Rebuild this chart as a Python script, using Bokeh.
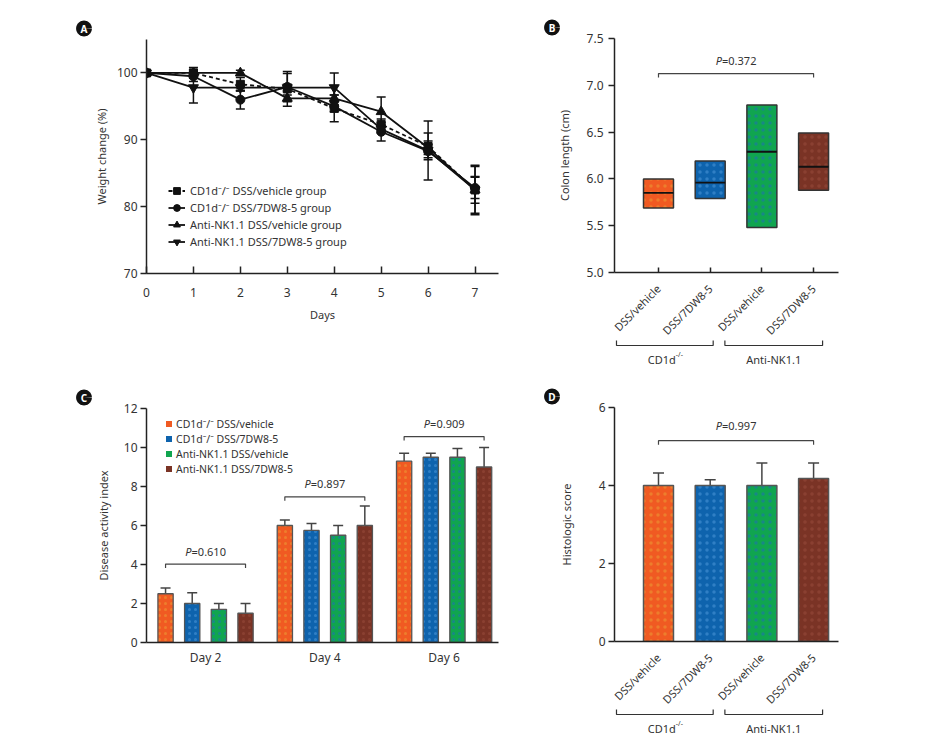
import numpy as np
from bokeh.plotting import figure
from bokeh.models import (Range1d, FixedTicker, Whisker, TeeHead, ColumnDataSource,
                          Legend, LegendItem, PrintfTickFormatter)
from bokeh.layouts import row, column
from bokeh.embed import file_html
from bokeh.resources import INLINE
from bokeh.core.properties import value

# ---------------- data ----------------
# Panel A: weight change (%)
days = [0, 1, 2, 3, 4, 5, 6, 7]
a_labels = ["CD1d\u207b/\u207b DSS/vehicle group", "CD1d\u207b/\u207b DSS/7DW8-5 group",
            "Anti-NK1.1 DSS/vehicle group", "Anti-NK1.1 DSS/7DW8-5 group"]
a_cd1d_vehicle = [100, 100, 98.3, 97.6, 94.7, 92.3, 89.0, 82.5]
a_cd1d_7dw = [100, 99.5, 96.0, 97.9, 95.0, 91.2, 88.3, 82.8]
a_nk_vehicle = [100, 100, 100, 96.2, 96.2, 94.2, 88.8, 82.5]
a_nk_7dw = [100, 97.8, 97.8, 97.8, 97.8, 91.6, 88.4, 82.5]
a_cd1d_vehicle_err = [0, 0.8, 1.0, 2.6, 2.0, 0.8, 2.0, 3.7]
a_cd1d_7dw_err = [0, 0.8, 1.4, 2.0, 0.8, 1.4, 1.0, 1.6]
a_nk_vehicle_err = [0, 0.5, 0.4, 0.5, 0.5, 2.2, 1.0, 2.0]
a_nk_7dw_err = [0, 2.3, 0.5, 0.5, 2.2, 0.6, 4.4, 3.5]
a_yticks = [70, 80, 90, 100]

# Shared categories for B and D
groups = ["CD1d", "Anti-NK1.1"]
group_sup = ["-/-", ""]
treatments = ["DSS/vehicle", "DSS/7DW8-5", "DSS/vehicle", "DSS/7DW8-5"]

# Panel B: colon length (cm) boxes
colon_low = [5.69, 5.79, 5.48, 5.88]
colon_high = [6.00, 6.19, 6.79, 6.49]
colon_median = [5.85, 5.96, 6.29, 6.13]
b_p = "0.372"
b_yticks = [5.0, 5.5, 6.0, 6.5, 7.0, 7.5]

# Panel C: disease activity index
c_days = ["Day 2", "Day 4", "Day 6"]
c_series = ["CD1d\u207b/\u207b DSS/vehicle", "CD1d\u207b/\u207b DSS/7DW8-5",
            "Anti-NK1.1 DSS/vehicle", "Anti-NK1.1 DSS/7DW8-5"]
dai_cd1d_vehicle = [2.5, 6.0, 9.3]
dai_cd1d_7dw = [2.0, 5.75, 9.5]
dai_nk_vehicle = [1.7, 5.5, 9.5]
dai_nk_7dw = [1.5, 6.0, 9.0]
dai_cd1d_vehicle_err = [0.3, 0.28, 0.4]
dai_cd1d_7dw_err = [0.55, 0.35, 0.2]
dai_nk_vehicle_err = [0.3, 0.5, 0.45]
dai_nk_7dw_err = [0.5, 1.0, 1.0]
c_p = ["0.610", "0.897", "0.909"]
c_yticks = [0, 2, 4, 6, 8, 10, 12]

# Panel D: histologic score
histo = [4.0, 4.0, 4.0, 4.18]
histo_err = [0.32, 0.15, 0.58, 0.40]
d_p = "0.997"
d_yticks = [0, 2, 4, 6]

# ---------------- style ----------------
FONT = "Noto Sans"
TXT = "#333333"
AX = "#222222"
COLORS = ["#F05A22", "#0E63AD", "#10A54F", "#7A3325"]
HATCH = ["#E8C040", "#6FB4F0", "#2850F0", "#A85A48"]


def make_fig(w, h, bl, br, bt, bb, xr, yr):
    p = figure(width=w, height=h, x_range=Range1d(*xr), y_range=Range1d(*yr),
               output_backend="svg", toolbar_location=None,
               min_border_left=bl, min_border_right=br, min_border_top=bt,
               min_border_bottom=bb)
    p.outline_line_color = None
    p.xgrid.visible = False
    p.ygrid.visible = False
    for ax in (p.xaxis[0], p.yaxis[0]):
        ax.axis_line_color = AX
        ax.axis_line_width = 1.5
        ax.major_tick_line_color = AX
        ax.major_tick_line_width = 1.5
        ax.minor_tick_line_color = None
        ax.major_label_text_font = FONT
        ax.major_label_text_font_size = "12px"
        ax.major_label_text_color = TXT
        ax.axis_label_text_font = FONT
        ax.axis_label_text_font_size = "11px"
        ax.axis_label_text_font_style = "normal"
        ax.axis_label_text_color = TXT
    p.yaxis.major_tick_in = 0
    p.yaxis.major_tick_out = 6
    p.yaxis.major_label_standoff = 3
    return p


class Frame:
    def __init__(self, xr, yr, fw, fh):
        self.x0, self.x1 = xr
        self.y0, self.y1 = yr
        self.xpp = fw / (xr[1] - xr[0])
        self.ypp = fh / (yr[1] - yr[0])
        self.fh = fh

    def dx(self, px):
        return px / self.xpp

    def dy(self, px):
        return px / self.ypp

    def X(self, px):  # px from frame left
        return self.x0 + px / self.xpp

    def Y(self, px):  # px from frame bottom (up positive)
        return self.y0 + px / self.ypp


def panel_letter(p, fr, letter):
    x = fr.X(-62.5)
    y = fr.Y(fr.fh + 11)
    t = np.linspace(0, 2 * np.pi, 41)
    r = 3.9
    # thick closed ring -> filled black disc (drawn outside the frame)
    p.multi_line(xs=[list(x + fr.dx(r * np.cos(t)))], ys=[list(y + fr.dy(r * np.sin(t)))],
                 line_color="#111111", line_width=8, line_join="round", level="overlay")
    p.text(x=[x], y=[y], text=[letter], text_font=value(FONT), text_font_size="10px",
           text_font_style="bold", text_color="white", text_align="center",
           text_baseline="middle", level="overlay")


def p_bracket(p, fr, xa, xb, y, ytext, pval):
    t = fr.dy(4)
    p.multi_line(xs=[[xa, xa, xb, xb]], ys=[[y - t, y, y, y - t]],
                 line_color="#444444", line_width=1.2)
    xc = (xa + xb) / 2
    p.text(x=[xc], y=[ytext], text=["P"], text_font=value(FONT), text_font_size="11px",
           text_font_style="italic", text_color=TXT, text_align="right",
           text_baseline="middle", x_offset=-14)
    p.text(x=[xc], y=[ytext], text=["=" + pval], text_font=value(FONT),
           text_font_size="11px", text_color=TXT, text_align="left",
           text_baseline="middle", x_offset=-14)


def group_brackets(p, fr, xs):
    # brackets below the rotated category labels
    offs = [(-42, 3), (-37, 9)]
    yl = fr.Y(-73)
    t = fr.dy(5)
    for gi, g in enumerate(groups):
        xa = xs[2 * gi] + fr.dx(offs[gi][0])
        xb = xs[2 * gi + 1] + fr.dx(offs[gi][1])
        p.multi_line(xs=[[xa, xa, xb, xb]], ys=[[yl + t, yl, yl, yl + t]],
                     line_color="#333333", line_width=1.2, level="overlay")
        xc = (xa + xb) / 2
        ylab = fr.Y(-87)
        sup = group_sup[gi]
        shift = -3 if sup else 0
        p.text(x=[xc], y=[ylab], text=[g], text_font=value(FONT), text_font_size="11px",
               text_color=TXT, text_align="center", text_baseline="middle",
               x_offset=shift, level="overlay")
        if sup:
            p.text(x=[xc], y=[ylab], text=[sup], text_font=value(FONT),
                   text_font_size="7px", text_color=TXT, text_align="left",
                   text_baseline="middle", x_offset=shift + 14, y_offset=-5,
                   level="overlay")


def cat_axis(p, xs, labels, tick_in):
    p.xaxis.ticker = FixedTicker(ticks=xs)
    p.xaxis.major_label_overrides = {x: lab for x, lab in zip(xs, labels)}
    p.xaxis.major_label_orientation = np.pi / 4
    p.xaxis.major_tick_in = tick_in
    p.xaxis.major_tick_out = 0
    p.xaxis.major_label_text_font_size = "11px"
    p.xaxis.major_label_standoff = 14


# ---------------- Panel A ----------------
A_xr, A_yr = (0, 7.5), (70, 105)
pA = make_fig(528, 378, 146, 30, 39, 105, A_xr, A_yr)
frA = Frame(A_xr, A_yr, 352, 234)
pA.xaxis.ticker = FixedTicker(ticks=days)
pA.yaxis.ticker = FixedTicker(ticks=a_yticks)
pA.xaxis.major_tick_in = 7
pA.xaxis.major_tick_out = 0
pA.xaxis.major_label_standoff = 14
pA.xaxis.axis_label = "Days"
pA.xaxis.axis_label_standoff = 7
pA.yaxis.axis_label = "Weight change (%)"
pA.yaxis.axis_label_standoff = 5

a_series = [a_cd1d_vehicle, a_cd1d_7dw, a_nk_vehicle, a_nk_7dw]
a_errs = [a_cd1d_vehicle_err, a_cd1d_7dw_err, a_nk_vehicle_err, a_nk_7dw_err]
markers = ["square", "circle", "triangle", "inverted_triangle"]
msizes = [8, 9, 10, 10]
dashes = ["4 3", "solid", "solid", "solid"]
a_items = []
for vals, errs, mk, ms, dsh, lab in zip(a_series, a_errs, markers, msizes, dashes, a_labels):
    xs_e = [d for d, e in zip(days, errs) if e > 0]
    lo = [v - e for v, e in zip(vals, errs) if e > 0]
    hi = [v + e for v, e in zip(vals, errs) if e > 0]
    src = ColumnDataSource(dict(x=xs_e, lower=lo, upper=hi))
    pA.add_layout(Whisker(source=src, base="x", lower="lower", upper="upper",
                          dimension="height", line_color="#111111", line_width=1.5,
                          upper_head=TeeHead(size=9, line_color="#111111", line_width=1.5),
                          lower_head=TeeHead(size=9, line_color="#111111", line_width=1.5)))
    lr = pA.line(days, vals, line_color="#111111", line_width=1.8, line_dash=dsh)
    sr = pA.scatter(days, vals, marker=mk, size=ms, fill_color="#111111",
                    line_color="#111111")
    a_items.append(LegendItem(label=lab, renderers=[lr, sr]))

legA = Legend(items=a_items, location=(22, 23), glyph_width=17, glyph_height=17,
              label_height=17, spacing=0, padding=0, margin=0, border_line_color=None,
              background_fill_alpha=0, label_text_font=FONT, label_text_font_size="11px",
              label_text_color=TXT, label_standoff=5)
pA.add_layout(legA)
panel_letter(pA, frA, "A")

# ---------------- Panel B ----------------
BD_xr = (-0.851, 3.482)
B_yr = (5.0, 7.5)
pB = make_fig(390, 378, 86, 80, 38, 106, BD_xr, B_yr)
frB = Frame(BD_xr, B_yr, 224, 234)
xs4 = list(range(len(treatments)))
cat_axis(pB, xs4, treatments, 5)
pB.yaxis.ticker = FixedTicker(ticks=b_yticks)
pB.yaxis.formatter = PrintfTickFormatter(format="%.1f")
pB.yaxis.major_label_standoff = 5
pB.yaxis.axis_label = "Colon length (cm)"
pB.yaxis.axis_label_standoff = 12
BOXW = 0.58
pB.vbar(x=xs4, width=BOXW, bottom=colon_low, top=colon_high, fill_color=COLORS,
        line_color="#333333", line_width=1.5, hatch_pattern="dot", hatch_color=HATCH,
        hatch_scale=7, hatch_weight=1, hatch_alpha=0.35)
pB.segment(x0=[x - BOXW / 2 for x in xs4], x1=[x + BOXW / 2 for x in xs4],
           y0=colon_median, y1=colon_median, line_color="#111111", line_width=1.8)
p_bracket(pB, frB, xs4[0], xs4[-1], 7.125, 7.268, b_p)
group_brackets(pB, frB, xs4)
panel_letter(pB, frB, "B")

# ---------------- Panel C ----------------
C_xr, C_yr = (-0.495, 2.456), (0, 12)
pC = make_fig(528, 320, 146, 30, 30, 56, C_xr, C_yr)
frC = Frame(C_xr, C_yr, 352, 234)
gx = list(range(len(c_days)))
pC.xaxis.ticker = FixedTicker(ticks=gx)
pC.xaxis.major_label_overrides = {x: d for x, d in zip(gx, c_days)}
pC.xaxis.major_tick_in = 0
pC.xaxis.major_tick_out = 0
pC.xaxis.major_label_standoff = 6
pC.yaxis.ticker = FixedTicker(ticks=c_yticks)
pC.yaxis.axis_label = "Disease activity index"
pC.yaxis.axis_label_standoff = 10

c_vals = [dai_cd1d_vehicle, dai_cd1d_7dw, dai_nk_vehicle, dai_nk_7dw]
c_errs = [dai_cd1d_vehicle_err, dai_cd1d_7dw_err, dai_nk_vehicle_err, dai_nk_7dw_err]
STEP = 0.2235
BARW = 0.128
c_items = []
for si, (vals, errs, col, hc, lab) in enumerate(zip(c_vals, c_errs, COLORS, HATCH, c_series)):
    xs = [g + (si - 1.5) * STEP for g in gx]
    src = ColumnDataSource(dict(x=xs, top=vals,
                                upper=[v + e for v, e in zip(vals, errs)]))
    pC.add_layout(Whisker(source=src, base="x", lower="top", upper="upper",
                          dimension="height", line_color="#444444", line_width=1.5,
                          upper_head=TeeHead(size=10, line_color="#444444", line_width=1.5),
                          lower_head=None))
    pC.vbar(x="x", top="top", width=BARW, source=src, fill_color=col,
            line_color="#555555", line_width=1.3, hatch_pattern="dot", hatch_color=hc,
            hatch_scale=6, hatch_weight=1, hatch_alpha=0.35)
    dr = pC.scatter(x=[np.nan], y=[np.nan], marker="square", fill_color=col,
                    line_color=None)
    c_items.append(LegendItem(label=lab, renderers=[dr]))
for gi, pv in enumerate(c_p):
    xa = gx[gi] - 1.5 * STEP
    xb = gx[gi] + 1.5 * STEP
    yb = [4.02, 7.47, 10.56][gi]
    yt = [4.65, 8.15, 11.23][gi]
    p_bracket(pC, frC, xa, xb, yb, yt, pv)
legC = Legend(items=c_items, location=(15, 166), glyph_width=15, glyph_height=15,
              label_height=15, spacing=0, padding=0, margin=0, border_line_color=None,
              background_fill_alpha=0, label_text_font=FONT, label_text_font_size="10.5px",
              label_text_color=TXT, label_standoff=0)
pC.add_layout(legC)
panel_letter(pC, frC, "C")

# ---------------- Panel D ----------------
D_yr = (0, 6)
pD = make_fig(390, 358, 86, 80, 29, 95, BD_xr, D_yr)
frD = Frame(BD_xr, D_yr, 224, 234)
cat_axis(pD, xs4, treatments, 0)
pD.yaxis.ticker = FixedTicker(ticks=d_yticks)
pD.yaxis.axis_label = "Histologic score"
pD.yaxis.axis_label_standoff = 22
srcD = ColumnDataSource(dict(x=xs4, top=histo, upper=[v + e for v, e in zip(histo, histo_err)]))
pD.add_layout(Whisker(source=srcD, base="x", lower="top", upper="upper",
                      dimension="height", line_color="#444444", line_width=1.5,
                      upper_head=TeeHead(size=11, line_color="#444444", line_width=1.5),
                      lower_head=None))
pD.vbar(x=xs4, top=histo, width=BOXW, fill_color=COLORS, line_color="#555555",
        line_width=1.5, hatch_pattern="dot", hatch_color=HATCH, hatch_scale=7,
        hatch_weight=1, hatch_alpha=0.35)
p_bracket(pD, frD, xs4[0], xs4[-1], 5.15, 5.53, d_p)
group_brackets(pD, frD, xs4)
panel_letter(pD, frD, "D")

layout = row(column(pA, pC), column(pB, pD))
open("out.html", "w").write(file_html(layout, INLINE))
